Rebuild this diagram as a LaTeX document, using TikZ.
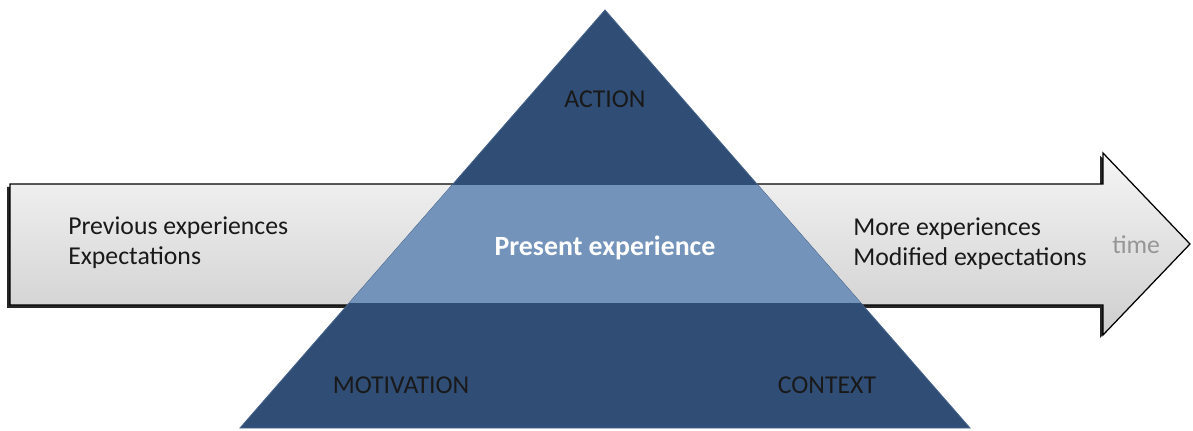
\documentclass[tikz,border=0pt]{standalone}
\usepackage{fontspec}
\setmainfont{Carlito}
\usepackage{xcolor}
\usetikzlibrary{positioning,shadows}
\definecolor{darkblue}{RGB}{47,77,117}
\definecolor{lightblue}{RGB}{116,147,187}
\definecolor{timegray}{RGB}{150,150,150}
\tikzset{%
	timearrow/.style = {draw=black, line width=0.9pt, top color=gray!8, bottom color=gray!38,
	                    drop shadow={shadow xshift=-2pt, shadow yshift=-2pt, opacity=1, fill=black!85}},
	pyramid/.style   = {fill=darkblue, draw=darkblue!70!lightblue, line width=0.6pt},
	band/.style      = {fill=lightblue},
	label/.style     = {font=\fontsize{18.3pt}{21.5pt}\selectfont, text=black!90, inner sep=0pt},
	sidetext/.style  = {label, align=left, anchor=west},
}
\begin{document}
\begin{tikzpicture}[x=0.025cm, y=-0.025cm]
	\useasboundingbox (0,0) rectangle (1193,430);
	% time arrow
	\draw[timearrow] (10,184) -- (1103,184) -- (1103,153) -- (1190,244)
		-- (1103,335) -- (1103,305) -- (10,305) -- cycle;
	% pyramid
	\draw[pyramid] (605,10) -- (970,428) -- (240,428) -- cycle;
	\begin{scope}
		\clip (605,10) -- (970,428) -- (240,428) -- cycle;
		\fill[band] (0,185) rectangle (1193,303);
	\end{scope}

	\node[sidetext] (past) at (68,243) {Previous experiences\\Expectations};
	\node[label, font=\fontsize{19.8pt}{22pt}\selectfont\bfseries, text=white] (now) at (605,248) {Present experience};
	\node[sidetext] (future) at (853,244) {More experiences\\Modified expectations};
	\node[label, text=timegray, anchor=west] (time) at (1112,245) {time};
	\node[label] (action) at (605,99) {ACTION};
	\node[label] (motivation) at (401,385) {MOTIVATION};
	\node[label] (context) at (827,385) {CONTEXT};
\end{tikzpicture}
\end{document}
